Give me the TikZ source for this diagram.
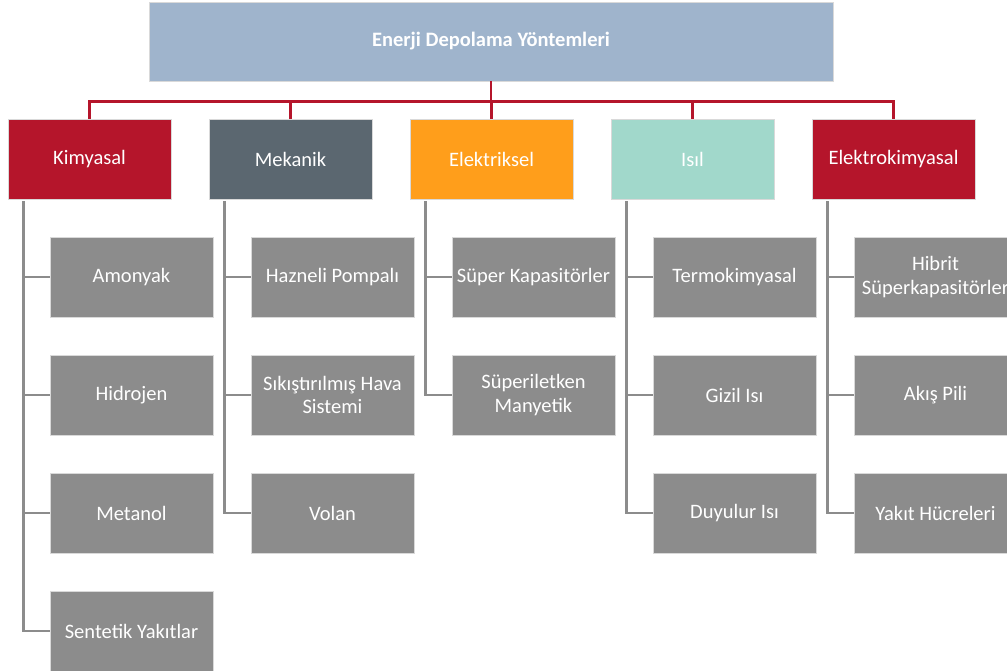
\documentclass[tikz,border=0pt]{standalone}
\usepackage{fontspec}
\setmainfont{Carlito}
\usetikzlibrary{calc}
\definecolor{topc}{HTML}{9FB4CC}
\definecolor{redc}{HTML}{B5152B}
\definecolor{mekc}{HTML}{5B6770}
\definecolor{orac}{HTML}{FF9E1B}
\definecolor{isic}{HTML}{A1D8CB}
\definecolor{grayc}{HTML}{8C8C8C}
\tikzset{
  box/.style={draw=white!85!black,line width=0.6pt,minimum width=163pt,minimum height=80pt,inner sep=1pt,align=center,text=white,font=\fontsize{20.5}{23.5}\selectfont},
  catbox/.style={box},
  kidbox/.style={box,fill=grayc},
  redline/.style={draw=redc,line width=2.6pt},
  grayline/.style={draw=grayc,line width=2.6pt},
}
\begin{document}
\begin{tikzpicture}[x=1pt,y=-1pt]
\useasboundingbox (0,0) rectangle (1007,671);
\clip (0,0) rectangle (1007,671);
\node[box,fill=topc,minimum width=684pt,minimum height=79pt,font=\fontsize{20.5}{23.5}\selectfont\bfseries] (top) at (491,41.5) {Enerji Depolama Yöntemleri};
\node[catbox,fill=redc] (c1) at (89.5,159) {Kimyasal};
\node[catbox,fill=mekc] (c2) at (290.5,159) {Mekanik};
\node[catbox,fill=orac] (c3) at (491.5,159) {Elektriksel};
\node[catbox,fill=isic] (c4) at (692.5,159) {Isıl};
\node[catbox,fill=redc] (c5) at (893.5,159) {Elektrokimyasal};
% column 1
\node[kidbox] (k11) at (131.5,277) {Amonyak};
\node[kidbox] (k12) at (131.5,395) {Hidrojen};
\node[kidbox] (k13) at (131.5,513) {Metanol};
\node[kidbox] (k14) at (131.5,631) {Sentetik Yakıtlar};
% column 2
\node[kidbox] (k21) at (332.5,277) {Hazneli Pompalı};
\node[kidbox] (k22) at (332.5,395) {Sıkıştırılmış Hava\\Sistemi};
\node[kidbox] (k23) at (332.5,513) {Volan};
% column 3
\node[kidbox] (k31) at (533.5,277) {Süper Kapasitörler};
\node[kidbox] (k32) at (533.5,395) {Süperiletken\\Manyetik};
% column 4
\node[kidbox] (k41) at (734.5,277) {Termokimyasal};
\node[kidbox] (k42) at (734.5,395) {Gizil Isı};
\node[kidbox] (k43) at (734.5,513) {Duyulur Isı};
% column 5
\node[kidbox] (k51) at (935.5,277) {Hibrit\\Süperkapasitörler};
\node[kidbox] (k52) at (935.5,395) {Akış Pili};
\node[kidbox] (k53) at (935.5,513) {Yakıt Hücreleri};
% red connectors
\coordinate (bus) at ($(top.south)+(0,20)$);
\foreach \c in {c1,c2,c3,c4,c5}{
  \draw[redline] (top.south) -- (bus) -| (\c.north);
}
% gray connectors
\foreach \c/\kids in {c1/{k11,k12,k13,k14},c2/{k21,k22,k23},c3/{k31,k32},c4/{k41,k42,k43},c5/{k51,k52,k53}}{
  \foreach \k in \kids{
    \draw[grayline] ($(\c.south west)+(16,2)$) |- (\k.west);
  }
}
\end{tikzpicture}
\end{document}
